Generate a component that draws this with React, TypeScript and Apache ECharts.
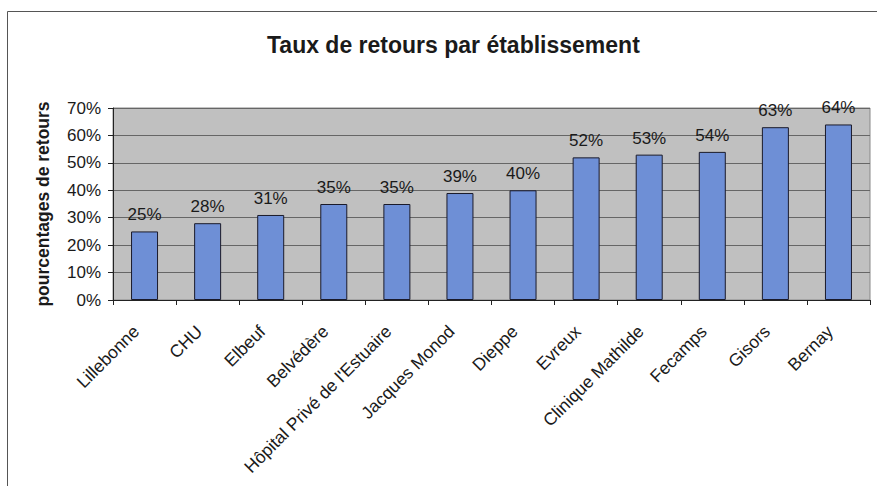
import React, { useEffect, useRef } from "react";
import * as echarts from "echarts";

const TITLE = "Taux de retours par établissement";
const Y_NAME = "pourcentages de retours";
const categories = [
  "Lillebonne",
  "CHU",
  "Elbeuf",
  "Belvédère",
  "Hôpital Privé de l'Estuaire",
  "Jacques Monod",
  "Dieppe",
  "Evreux",
  "Clinique Mathilde",
  "Fecamps",
  "Gisors",
  "Bernay",
];
const values = [25, 28, 31, 35, 35, 39, 40, 52, 53, 54, 63, 64];

export default function App() {
  const ref = useRef<HTMLDivElement>(null);
  useEffect(() => {
    if (!ref.current) return;
    const chart = echarts.init(ref.current, null, { renderer: "svg" });
    const font = "'Liberation Sans', Arial, sans-serif";
    chart.setOption({
      animation: false,
      backgroundColor: "#ffffff",
      textStyle: { fontFamily: font },
      title: {
        text: TITLE,
        left: 262,
        top: 28,
        textStyle: { fontSize: 23, fontWeight: "bold", color: "#1a1a1a", fontFamily: font },
      },
      graphic: [
        {
          type: "rect",
          shape: { x: 7.5, y: 11.5, width: 900, height: 600 },
          style: { fill: "none", stroke: "#555", lineWidth: 1 },
          silent: true,
          z: 0,
        },
      ],
      grid: {
        left: 113,
        right: 7,
        top: 108,
        bottom: 186,
        show: true,
        backgroundColor: "#c0c0c0",
        borderColor: "#888",
        borderWidth: 1,
      },
      xAxis: {
        type: "category",
        data: categories,
        boundaryGap: true,
        axisLine: { show: true, lineStyle: { color: "#222", width: 1 } },
        axisTick: { show: true, length: 5, alignWithLabel: false, lineStyle: { color: "#222" } },
        axisLabel: {
          interval: 0,
          rotate: 45,
          margin: 20,
          padding: [0, 12, 0, 0],
          fontSize: 17.5,
          color: "#1a1a1a",
          fontFamily: font,
        },
      },
      yAxis: {
        type: "value",
        min: 0,
        max: 70,
        interval: 10,
        name: Y_NAME,
        nameLocation: "middle",
        nameGap: 61,
        nameTextStyle: { fontSize: 17.5, fontWeight: "bold", color: "#1a1a1a", fontFamily: font },
        axisLine: { show: true, lineStyle: { color: "#222", width: 1 } },
        axisTick: { show: true, length: 5, lineStyle: { color: "#222" } },
        axisLabel: {
          formatter: "{value}%",
          margin: 12,
          fontSize: 17,
          color: "#1a1a1a",
          fontFamily: font,
        },
        splitLine: { show: true, lineStyle: { color: "#666", width: 1 } },
      },
      series: [
        {
          type: "bar",
          data: values,
          barWidth: 27,
          itemStyle: { color: "#6e8fd6", borderColor: "#1a1a2a", borderWidth: 1 },
          label: {
            show: true,
            position: "top",
            distance: 8,
            formatter: "{c}%",
            fontSize: 17,
            color: "#1a1a1a",
            fontFamily: font,
          },
        },
      ],
    });
    return () => chart.dispose();
  }, []);
  return (
    <div
      ref={ref}
      style={{ position: "fixed", left: 0, top: 0, width: 877, height: 486 }}
    />
  );
}
